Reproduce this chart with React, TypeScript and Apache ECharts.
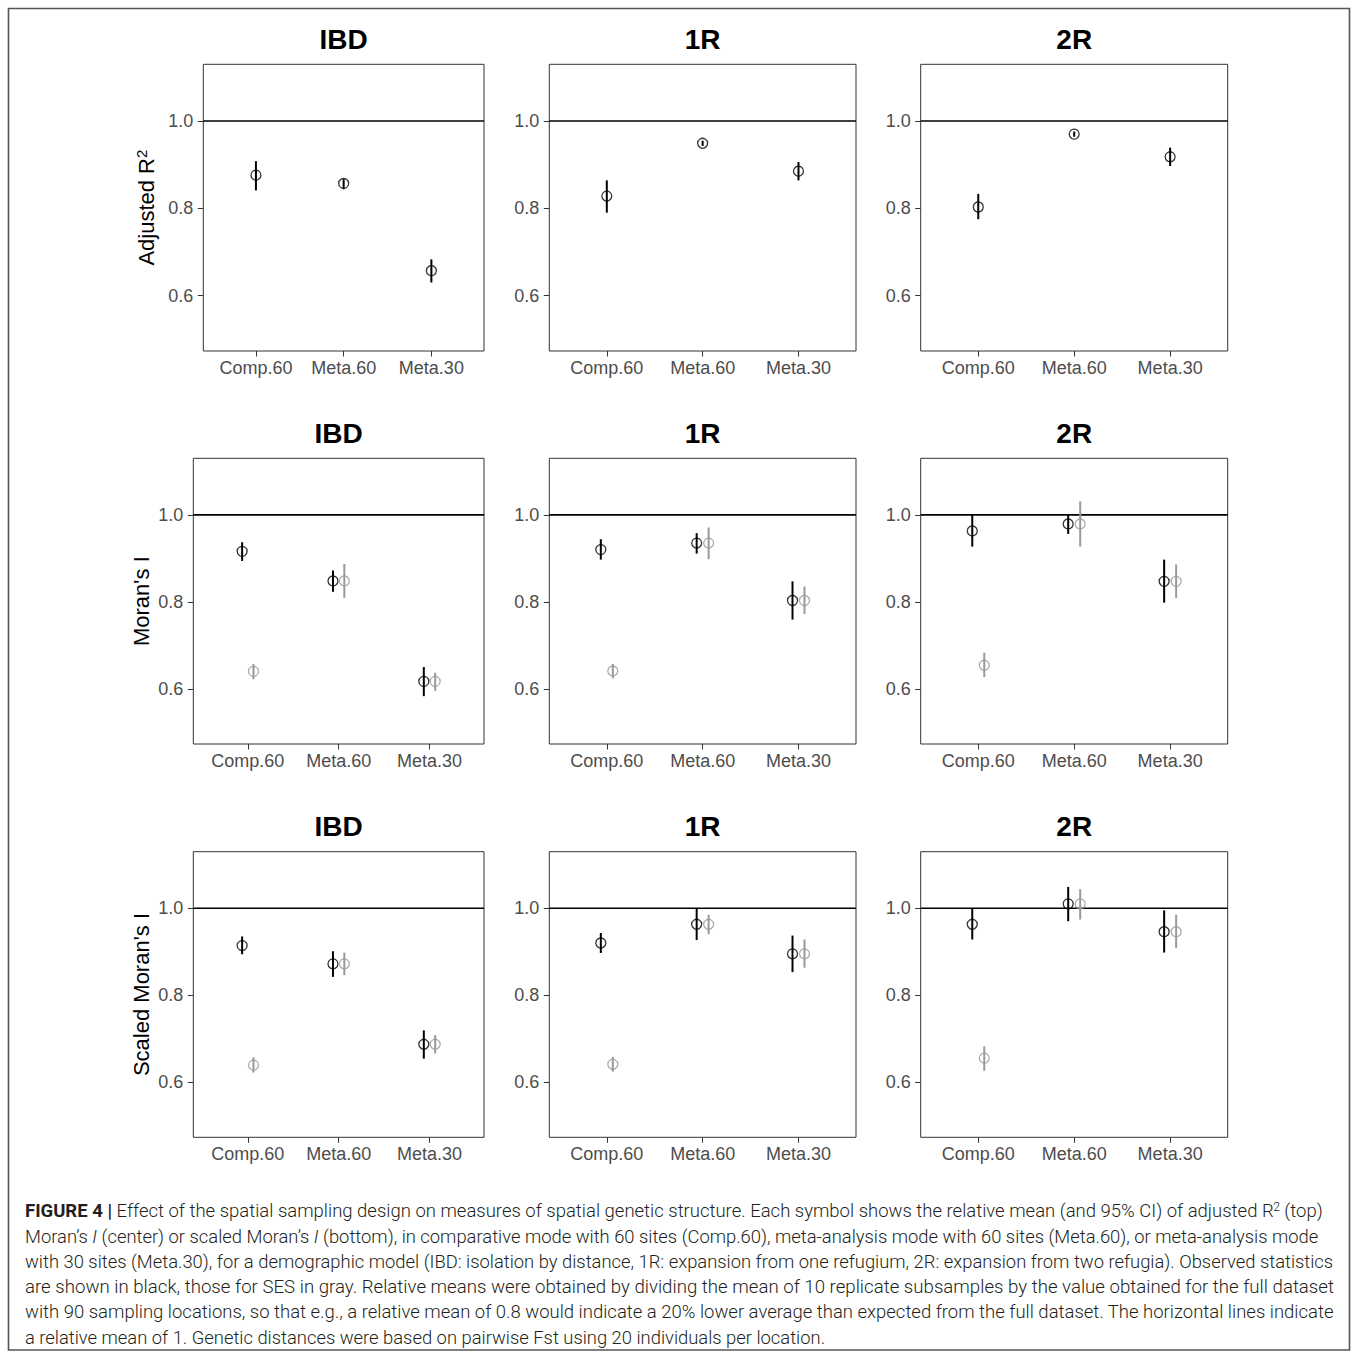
import React, { useEffect, useRef } from "react";
import * as echarts from "echarts";

// ---------- data ----------
const CATEGORIES = ["Comp.60", "Meta.60", "Meta.30"];
const MODELS = ["IBD", "1R", "2R"];
const ROW_NAMES = ["Adjusted R", "Moran's I", "Scaled Moran's I"];
const Y_TICKS = [0.6, 0.8, 1.0];
const X_POSITIONS = [1, 2, 3];
const Y_MIN = 0.473;
const Y_MAX = 1.13;
const X_MIN = 0.4;
const X_MAX = 3.6;
const REF_LINE = 1.0;
const DODGE = 0.0625;

// each entry: [mean, lower 95% CI, upper 95% CI]
const R2_IBD = [[0.876, 0.841, 0.908], [0.857, 0.844, 0.867], [0.657, 0.63, 0.683]];
const R2_1R = [[0.828, 0.79, 0.864], [0.949, 0.943, 0.955], [0.885, 0.864, 0.906]];
const R2_2R = [[0.803, 0.775, 0.833], [0.97, 0.964, 0.976], [0.918, 0.897, 0.939]];

const MORAN_IBD_OBS = [[0.916, 0.894, 0.937], [0.848, 0.823, 0.872], [0.617, 0.583, 0.65]];
const MORAN_IBD_SES = [[0.64, 0.622, 0.657], [0.848, 0.809, 0.887], [0.617, 0.595, 0.637]];
const MORAN_1R_OBS = [[0.92, 0.897, 0.944], [0.935, 0.911, 0.958], [0.803, 0.759, 0.847]];
const MORAN_1R_SES = [[0.641, 0.624, 0.657], [0.935, 0.898, 0.971], [0.803, 0.772, 0.835]];
const MORAN_2R_OBS = [[0.963, 0.927, 1.0], [0.979, 0.956, 1.0], [0.847, 0.798, 0.897]];
const MORAN_2R_SES = [[0.654, 0.627, 0.683], [0.979, 0.927, 1.031], [0.847, 0.809, 0.886]];

const SCALED_IBD_OBS = [[0.914, 0.894, 0.935], [0.872, 0.842, 0.901], [0.687, 0.654, 0.719]];
const SCALED_IBD_SES = [[0.639, 0.622, 0.657], [0.872, 0.846, 0.898], [0.687, 0.666, 0.708]];
const SCALED_1R_OBS = [[0.92, 0.897, 0.943], [0.963, 0.927, 1.0], [0.895, 0.853, 0.937]];
const SCALED_1R_SES = [[0.641, 0.624, 0.658], [0.963, 0.94, 0.985], [0.895, 0.863, 0.928]];
const SCALED_2R_OBS = [[0.963, 0.928, 1.0], [1.01, 0.97, 1.049], [0.946, 0.898, 0.995]];
const SCALED_2R_SES = [[0.655, 0.626, 0.682], [1.01, 0.974, 1.044], [0.946, 0.908, 0.985]];

const CAPTION_LINES = [
  "{b|FIGURE 4 |} Effect of the spatial sampling design on measures of spatial genetic structure. Each symbol shows the relative mean (and 95% CI) of adjusted R{sup|2} (top)",
  "Moran\u2019s {i|I} (center) or scaled Moran\u2019s {i|I} (bottom), in comparative mode with 60 sites (Comp.60), meta-analysis mode with 60 sites (Meta.60), or meta-analysis mode",
  "with 30 sites (Meta.30), for a demographic model (IBD: isolation by distance, 1R: expansion from one refugium, 2R: expansion from two refugia). Observed statistics",
  "are shown in black, those for SES in gray. Relative means were obtained by dividing the mean of 10 replicate subsamples by the value obtained for the full dataset",
  "with 90 sampling locations, so that e.g., a relative mean of 0.8 would indicate a 20% lower average than expected from the full dataset. The horizontal lines indicate",
  "a relative mean of 1. Genetic distances were based on pairwise Fst using 20 individuals per location.",
];

// ---------- layout ----------
const FONT = "'Liberation Sans', Arial, Helvetica, sans-serif";
const CAP_FONT = "Roboto, 'Liberation Sans', sans-serif";
const ROW_Y = [[64.3, 351], [458.3, 744], [851.7, 1137.3]];
const COL_X = [
  [[203.3, 484], [549.3, 856], [920.7, 1227.7]],
  [[193.3, 484], [549.3, 856], [920.7, 1227.7]],
  [[193.3, 484], [549.3, 856], [920.7, 1227.7]],
];
const TITLE_Y = [39.5, 433, 826];
const YNAME_X = [146.7, 141.7, 141.7];
const CAP_X = 25;
const CAP_Y0 = 1211;
const CAP_DY = 25.2;
const CAP_RIGHT = [1323, 1319, 1333, 1333, 1333, -1];
const CAP_LAST_RIGHT = 826;

const BLACK = "#000000";
const GRAY = "#999999";

function measure(ctx: CanvasRenderingContext2D, text: string, font: string) {
  ctx.font = font;
  return ctx.measureText(text).width;
}

function buildOption() {
  const rows = [
    [{ obs: R2_IBD }, { obs: R2_1R }, { obs: R2_2R }],
    [
      { obs: MORAN_IBD_OBS, ses: MORAN_IBD_SES },
      { obs: MORAN_1R_OBS, ses: MORAN_1R_SES },
      { obs: MORAN_2R_OBS, ses: MORAN_2R_SES },
    ],
    [
      { obs: SCALED_IBD_OBS, ses: SCALED_IBD_SES },
      { obs: SCALED_1R_OBS, ses: SCALED_1R_SES },
      { obs: SCALED_2R_OBS, ses: SCALED_2R_SES },
    ],
  ];

  const grid: any[] = [];
  const xAxis: any[] = [];
  const yAxis: any[] = [];
  const series: any[] = [];
  const graphic: any[] = [];

  const errBar = (color: string) => (params: any, api: any) => {
    const x = api.value(0);
    const p1 = api.coord([x, api.value(1)]);
    const p2 = api.coord([x, api.value(2)]);
    return {
      type: "line",
      shape: { x1: p1[0], y1: p1[1], x2: p2[0], y2: p2[1] },
      style: { stroke: color, lineWidth: 2 },
    };
  };

  rows.forEach((row, r) => {
    const [top, bottom] = ROW_Y[r];
    row.forEach((panel: any, c) => {
      const idx = r * 3 + c;
      const [left, right] = COL_X[r][c];
      grid.push({
        left,
        top,
        width: right - left,
        height: bottom - top,
        show: true,
        borderColor: "#333333",
        borderWidth: 1,
        backgroundColor: "#ffffff",
        containLabel: false,
      });
      xAxis.push({
        type: "value",
        gridIndex: idx,
        min: X_MIN,
        max: X_MAX,
        axisLine: { show: false },
        splitLine: { show: false },
        axisTick: {
          show: true,
          customValues: X_POSITIONS,
          length: 5.5,
          lineStyle: { color: "#333333", width: 1 },
        },
        axisLabel: {
          customValues: X_POSITIONS,
          formatter: (v: number) => CATEGORIES[Math.round(v) - 1] ?? "",
          fontSize: 18,
          color: "#4d4d4d",
          fontFamily: FONT,
          margin: 8,
        },
      });
      yAxis.push({
        type: "value",
        gridIndex: idx,
        min: Y_MIN,
        max: Y_MAX,
        axisLine: { show: false },
        splitLine: { show: false },
        axisTick: {
          show: true,
          customValues: Y_TICKS,
          length: 5.5,
          lineStyle: { color: "#333333", width: 1 },
        },
        axisLabel: {
          customValues: Y_TICKS,
          formatter: (v: number) => v.toFixed(1),
          fontSize: 18,
          color: "#4d4d4d",
          fontFamily: FONT,
          margin: 10,
        },
      });

      // reference line at 1
      series.push({
        type: "line",
        xAxisIndex: idx,
        yAxisIndex: idx,
        data: [[X_MIN, REF_LINE], [X_MAX, REF_LINE]],
        symbol: "none",
        silent: true,
        lineStyle: { color: BLACK, width: 1.6 },
        z: 1,
      });

      const groups: { data: number[][]; color: string; off: number }[] = [];
      if (panel.ses) {
        groups.push({ data: panel.obs, color: BLACK, off: -DODGE });
        groups.push({ data: panel.ses, color: GRAY, off: DODGE });
      } else {
        groups.push({ data: panel.obs, color: BLACK, off: 0 });
      }
      groups.forEach((g) => {
        series.push({
          type: "custom",
          xAxisIndex: idx,
          yAxisIndex: idx,
          renderItem: errBar(g.color),
          encode: { x: 0, y: [1, 2] },
          data: g.data.map((d, i) => [X_POSITIONS[i] + g.off, d[1], d[2]]),
          silent: true,
          z: 2,
        });
        series.push({
          type: "scatter",
          xAxisIndex: idx,
          yAxisIndex: idx,
          data: g.data.map((d, i) => [X_POSITIONS[i] + g.off, d[0]]),
          symbol: "circle",
          symbolSize: 10,
          itemStyle: { color: "none", borderColor: g.color, borderWidth: 1.3 },
          silent: true,
          z: 3,
        });
      });

      // panel title
      graphic.push({
        type: "text",
        x: (left + right) / 2,
        y: TITLE_Y[r],
        style: {
          text: MODELS[c],
          fill: "#000000",
          font: `bold 28px ${FONT}`,
          align: "center",
          verticalAlign: "middle",
          textAlign: "center",
          textVerticalAlign: "middle",
        },
      });
    });

    // y axis name
    const [top2, bottom2] = ROW_Y[r];
    graphic.push({
      type: "text",
      x: YNAME_X[r],
      y: (top2 + bottom2) / 2,
      rotation: Math.PI / 2,
      style: {
        text: r === 0 ? `{t|${ROW_NAMES[r]}}{s|2}` : `{t|${ROW_NAMES[r]}}`,
        fill: "#000000",
        fontSize: 22,
        fontFamily: FONT,
        align: "center",
        verticalAlign: "middle",
        textAlign: "center",
        textVerticalAlign: "middle",
        rich: {
          t: { fontSize: 22, fontFamily: FONT, lineHeight: 26, fill: "#000000" },
          s: { fontSize: 15, fontFamily: FONT, lineHeight: 15, verticalAlign: "top", fill: "#000000" },
        },
      },
    });
  });

  // outer frame
  graphic.push({
    type: "rect",
    shape: { x: 8.5, y: 8.5, width: 1341, height: 1341.5 },
    style: { fill: "none", stroke: "#555555", lineWidth: 1.6 },
    silent: true,
  });

  // caption
  const canvas = document.createElement("canvas");
  const ctx = canvas.getContext("2d") as CanvasRenderingContext2D;
  const plain = (s: string) =>
    s.replace(/\{b\|([^}]*)\}/g, "$1").replace(/\{i\|([^}]*)\}/g, "$1").replace(/\{sup\|([^}]*)\}/g, "");
  const base = 16;
  const W = 300;
  const lastW = measure(ctx, CAPTION_LINES[5], `${W} ${base}px ${CAP_FONT}`);
  const fs = (base * (CAP_LAST_RIGHT - CAP_X)) / lastW;
  CAPTION_LINES.forEach((line, i) => {
    let w = 0;
    if (i === 0) {
      const boldPart = "FIGURE 4 |";
      const rest = plain(line).replace(boldPart, "");
      w =
        measure(ctx, boldPart, `bold ${fs}px ${CAP_FONT}`) +
        measure(ctx, rest, `${W} ${fs}px ${CAP_FONT}`) +
        measure(ctx, "2", `${W} ${fs * 0.65}px ${CAP_FONT}`);
    } else {
      w = measure(ctx, plain(line), `${W} ${fs}px ${CAP_FONT}`);
    }
    const target = CAP_RIGHT[i] > 0 ? CAP_RIGHT[i] - CAP_X : w;
    const sx = w > 0 ? target / w : 1;
    graphic.push({
      type: "text",
      x: CAP_X,
      y: CAP_Y0 + i * CAP_DY,
      scaleX: sx,
      style: {
        text: line,
        fill: "#231f20",
        fontSize: fs,
        fontWeight: W,
        fontFamily: CAP_FONT,
        lineHeight: 20,
        align: "left",
        verticalAlign: "middle",
        textAlign: "left",
        textVerticalAlign: "middle",
        rich: {
          b: { fontSize: fs, fontFamily: CAP_FONT, fontWeight: "bold", lineHeight: 20, fill: "#231f20" },
          i: { fontSize: fs, fontFamily: CAP_FONT, fontWeight: W, fontStyle: "italic", lineHeight: 20, fill: "#231f20" },
          sup: { fontSize: fs * 0.65, fontFamily: CAP_FONT, fontWeight: W, lineHeight: 11, verticalAlign: "top", fill: "#231f20" },
        },
      },
    });
  });

  return {
    animation: false,
    backgroundColor: "#ffffff",
    grid,
    xAxis,
    yAxis,
    series,
    graphic,
  };
}

export default function App() {
  const ref = useRef<HTMLDivElement>(null);
  useEffect(() => {
    if (!ref.current) return;
    const chart = echarts.init(ref.current, undefined, { renderer: "svg" });
    chart.setOption(buildOption() as any);
    return () => chart.dispose();
  }, []);
  return (
    <div
      ref={ref}
      style={{ position: "absolute", left: 0, top: 0, width: 1358, height: 1353, background: "#fff" }}
    />
  );
}
